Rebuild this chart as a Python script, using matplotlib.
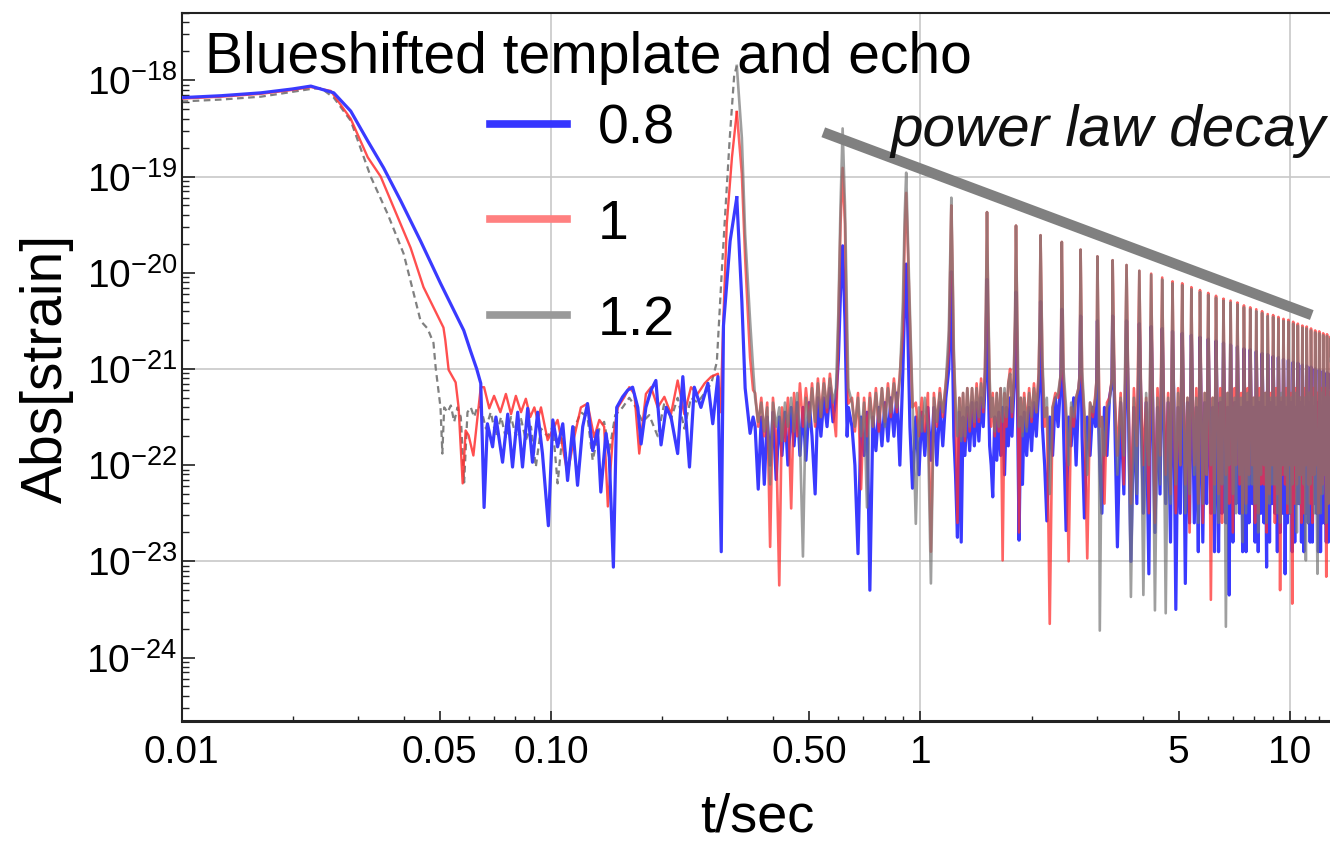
import numpy as np
import matplotlib
matplotlib.use("Agg")
import matplotlib.pyplot as plt
from matplotlib.lines import Line2D
from matplotlib.ticker import FixedLocator, FixedFormatter, LogLocator, NullFormatter

plt.rcParams['font.family'] = ['Liberation Sans', 'DejaVu Sans']
plt.rcParams['mathtext.fontset'] = 'custom'
plt.rcParams['mathtext.rm'] = 'Liberation Sans'

# ---- data: early part (ringdown + noise floor up to first echo peak), log10(t) and log10(|h|) ----
blue_early_lt = [-2.0, -1.893, -1.785, -1.700, -1.650, -1.588, -1.542, -1.496, -1.453, -1.407, -1.353, -1.299, -1.272, -1.236, -1.218, -1.201,
                 -1.190, -1.181, -1.172, -1.158, -1.149, -1.131, -1.117, -1.104, -1.090, -1.077, -1.063, -1.050, -1.036, -1.023, -1.007,
                 -0.995, -0.982, -0.968, -0.955, -0.941, -0.928, -0.914, -0.901, -0.887, -0.874, -0.865, -0.851, -0.842, -0.831, -0.822,
                 -0.806, -0.792, -0.779, -0.765, -0.756, -0.743, -0.729, -0.716, -0.702, -0.688, -0.675, -0.657, -0.643, -0.625, -0.612,
                 -0.594, -0.575, -0.562, -0.548, -0.539, -0.533, -0.515, -0.497]
blue_early_lh = [-18.18, -18.16, -18.13, -18.09, -18.06, -18.13, -18.32, -18.63, -18.91, -19.25, -19.67, -20.11, -20.32, -20.60, -20.81, -21.00,
                 -21.15, -22.44, -21.57, -21.81, -21.50, -21.97, -21.47, -22.02, -21.45, -22.02, -21.41, -21.97, -21.45, -21.88, -22.63,
                 -21.53, -21.81, -21.57, -22.16, -21.60, -22.21, -21.60, -21.36, -21.85, -21.64, -22.28, -21.67, -21.92, -23.06, -21.40,
                 -21.29, -21.22, -21.19, -21.40, -21.78, -21.40, -21.22, -21.12, -21.79, -21.40, -21.50, -21.88, -21.08, -22.02, -21.19,
                 -21.40, -21.15, -21.57, -21.08, -22.90, -20.55, -19.67, -19.22]

red_early_lt = [-2.0, -1.893, -1.785, -1.700, -1.650, -1.596, -1.542, -1.496, -1.461, -1.426, -1.380, -1.345, -1.291, -1.286, -1.277,
                -1.258, -1.250, -1.239, -1.231, -1.223, -1.210, -1.196,
                -1.190, -1.181, -1.167, -1.154, -1.137, -1.122, -1.108, -1.095, -1.081, -1.068, -1.056, -1.045, -1.036, -1.027, -1.009,
                -0.982, -0.955, -0.937, -0.919, -0.901, -0.883, -0.869, -0.856, -0.846, -0.833, -0.819, -0.801, -0.788, -0.774, -0.761,
                -0.743, -0.729, -0.711, -0.693, -0.675, -0.657, -0.639, -0.621, -0.603, -0.584, -0.566, -0.548, -0.541, -0.533, -0.524,
                -0.510, -0.497]
red_early_lh = [-18.19, -18.17, -18.14, -18.10, -18.07, -18.11, -18.40, -18.80, -19.00, -19.32, -19.74, -20.15, -20.57, -20.70, -21.01,
                -21.14, -21.40, -22.19, -21.64, -21.69, -21.90, -21.40,
                -21.19, -21.19, -21.41, -21.28, -21.45, -21.26, -21.47, -21.28, -21.45, -21.31, -21.50, -21.40, -21.53, -21.40, -21.74,
                -21.53, -22.09, -21.71, -21.40, -21.36, -21.71, -21.53, -21.60, -22.43, -21.74, -21.40, -21.29, -21.19, -21.26, -21.88,
                -21.26, -21.19, -21.40, -21.29, -21.47, -21.12, -21.47, -21.19, -21.26, -21.15, -21.08, -21.05, -21.45, -20.45, -19.49,
                -18.80, -18.33]

gray_early_lt = [-2.0, -1.893, -1.785, -1.700, -1.650, -1.623, -1.588, -1.542, -1.488, -1.442, -1.399, -1.366, -1.353, -1.334, -1.318,
                 -1.312, -1.299,
                 -1.294, -1.289, -1.280, -1.271, -1.262, -1.253, -1.244, -1.235, -1.226, -1.217, -1.208, -1.199, -1.190, -1.176, -1.163,
                 -1.149, -1.135, -1.122, -1.108, -1.095, -1.081, -1.068, -1.054, -1.041, -1.027, -1.009, -0.995, -0.982, -0.968, -0.955,
                 -0.937, -0.919, -0.901, -0.887, -0.869, -0.856, -0.842, -0.826, -0.806, -0.788, -0.770, -0.752, -0.734, -0.711, -0.693,
                 -0.675, -0.657, -0.639, -0.621, -0.603, -0.584, -0.566, -0.551, -0.537, -0.527, -0.516, -0.504, -0.497]
gray_early_lh = [-18.22, -18.20, -18.17, -18.12, -18.09, -18.08, -18.18, -18.42, -19.00, -19.39, -19.80, -20.30, -20.50, -20.58, -20.73,
                 -20.99, -21.40,
                 -21.88, -21.40, -21.45, -21.38, -21.55, -21.40, -21.50, -22.18, -21.45, -21.40, -21.50, -21.39, -21.40, -21.62, -21.45,
                 -21.70, -21.50, -21.72, -21.50, -21.70, -21.52, -21.74, -21.60, -22.02, -21.62, -21.70, -21.60, -22.19, -21.65, -22.05,
                 -21.62, -21.45, -21.50, -21.95, -21.62, -21.55, -21.85, -21.48, -21.40, -21.30, -21.40, -21.55, -21.48, -21.70, -21.35,
                 -21.52, -21.30, -21.62, -21.30, -21.35, -21.25, -21.15, -20.93, -19.95, -19.30, -18.60, -17.95, -17.85]

# ---- data: echo train, t in seconds, log10(|h|) ----
echo_t = [0.3185, 0.3287, 0.3355, 0.346, 0.3526,
          0.357, 0.364, 0.371, 0.378, 0.385, 0.392, 0.399, 0.407, 0.415, 0.422, 0.430, 0.438, 0.447, 0.455,
          0.464, 0.472, 0.481, 0.490, 0.500, 0.509, 0.519, 0.528, 0.538, 0.548, 0.559, 0.569, 0.580, 0.591, 0.600, 0.608,
          0.616, 0.625, 0.6335, 0.6385,
          0.653, 0.665, 0.678, 0.691, 0.704, 0.717, 0.730, 0.744, 0.758, 0.772, 0.787, 0.802, 0.817, 0.832, 0.848, 0.864,
          0.880, 0.897, 0.907,
          0.9155, 0.926, 0.937, 0.952,
          0.972, 0.991, 1.009, 1.028, 1.048, 1.068, 1.088, 1.108, 1.129, 1.150, 1.172, 1.194, 1.204,
          1.213, 1.222, 1.232, 1.245, 1.26, 1.275, 1.29, 1.305, 1.32, 1.34, 1.36, 1.38, 1.40, 1.42, 1.44, 1.46, 1.48, 1.495, 1.505,
          1.515, 1.525, 1.54, 1.555, 1.57, 1.59, 1.61, 1.63, 1.65, 1.67, 1.69, 1.71, 1.73, 1.75, 1.77, 1.79, 1.805,
          1.815, 1.83, 1.85, 1.87, 1.89, 1.91, 1.94, 1.97, 2.00, 2.03, 2.06, 2.09, 2.105,
          2.115, 2.14, 2.17, 2.20, 2.24, 2.28, 2.32, 2.36, 2.40,
          2.415, 2.44, 2.48, 2.52, 2.56, 2.60, 2.64, 2.68, 2.70,
          2.715, 2.74, 2.78, 2.83, 2.88, 2.93, 2.98, 3.00,
          3.015, 3.04, 3.06, 3.10, 3.15, 3.20, 3.25, 3.30,
          3.315, 3.355, 3.415, 3.485, 3.555,
          3.615, 3.655, 3.715, 3.785, 3.855,
          3.915, 3.955, 4.015, 4.085, 4.155,
          4.215, 4.255, 4.315, 4.385, 4.455,
          4.515, 4.555, 4.615, 4.685, 4.755,
          4.815, 4.855, 4.915, 4.985, 5.055,
          5.115, 5.155, 5.215, 5.285, 5.355,
          5.415, 5.455, 5.515, 5.585, 5.655,
          5.715, 5.755, 5.815, 5.885, 5.955,
          6.015, 6.055, 6.115, 6.185, 6.255,
          6.315, 6.355, 6.415, 6.485, 6.555,
          6.615, 6.655, 6.715, 6.785, 6.855,
          6.915, 6.955, 7.015, 7.085, 7.155,
          7.215, 7.255, 7.315, 7.385, 7.455,
          7.515, 7.555, 7.615, 7.685, 7.755,
          7.815, 7.855, 7.915, 7.985, 8.055,
          8.115, 8.155, 8.215, 8.285, 8.355,
          8.415, 8.455, 8.515, 8.585, 8.655,
          8.715, 8.755, 8.815, 8.885, 8.955,
          9.015, 9.055, 9.115, 9.185, 9.255,
          9.315, 9.355, 9.415, 9.485, 9.555,
          9.615, 9.655, 9.715, 9.785, 9.855,
          9.915, 9.955, 10.015, 10.085, 10.155,
          10.215, 10.255, 10.315, 10.385, 10.455,
          10.515, 10.555, 10.615, 10.685, 10.755,
          10.815, 10.855, 10.915, 10.985, 11.055,
          11.115, 11.155, 11.215, 11.285, 11.355,
          11.415, 11.455, 11.515, 11.585, 11.655,
          11.715, 11.755, 11.815, 11.885, 11.955,
          12.015, 12.055, 12.115, 12.185, 12.255,
          12.315, 12.355, 12.415, 12.485, 12.555,
          12.615, 12.655, 12.715, 12.785, 12.855,
          12.915, 12.955, 13.015, 13.085, 13.155]

blue_echo = [-19.22, -20.3, -21.2, -21.67, -21.5,
             -21.6, -22.25, -21.5, -22.2, -21.5, -22.0, -21.45, -22.15, -21.5, -21.9, -21.45, -22.0, -21.4, -21.8,
             -21.35, -21.9, -21.4, -21.95, -21.35, -21.7, -22.3, -21.3, -21.7, -21.3, -21.6, -21.2, -21.55, -21.3, -20.9, -20.2,
             -19.72, -20.5, -21.7, -21.4,
             -21.6, -22.0, -22.92, -21.5, -21.9, -21.45, -23.3, -21.5, -21.85, -21.4, -21.8, -21.35, -21.75, -21.3, -21.7, -21.25,
             -22.0, -21.0, -20.3,
             -19.91, -20.7, -21.6, -22.24,
             -21.5, -22.1, -21.45, -21.9, -21.4, -21.95, -21.4, -22.0, -21.35, -21.8, -21.3, -21.0, -20.5,
             -19.99, -20.8, -21.7, -22.1, -22.75, -21.45, -22.8, -21.5, -21.9, -21.4, -21.85, -21.35, -21.8, -21.35, -21.75, -21.3, -21.6, -21.2, -20.9,
             -20.07, -21.0, -21.8, -22.0, -22.33, -21.5, -21.95, -21.45, -21.9, -21.4, -22.1, -21.4, -21.8, -21.3, -21.7, -21.25, -21.0,
             -20.2, -21.2, -22.78, -21.5, -22.2, -21.45, -21.9, -21.4, -21.85, -21.35, -21.7, -21.25, -21.0,
             -20.3, -21.6, -22.0, -22.58, -21.5, -21.9, -21.3, -21.6, -21.1,
             -20.38, -21.6, -22.68, -21.5, -21.8, -21.3, -22.0, -21.3, -21.1,
             -20.45, -21.7, -22.55, -21.5, -21.9, -21.4, -21.6, -21.15,
             -20.5, -21.6, -22.0, -22.5, -21.4, -21.9, -21.3, -21.15,
             -20.45, -21.4, -22.85, -21.35, -22.3,
             -20.50, -21.35, -23.0, -21.4, -22.4,
             -20.53, -21.4, -22.5, -21.35, -23.13,
             -20.56, -21.35, -22.7, -21.4, -22.3,
             -20.58, -21.4, -22.4, -21.35, -22.8,
             -20.61, -21.35, -23.5, -21.4, -22.5,
             -20.63, -21.4, -23.23, -21.35, -22.6,
             -20.65, -21.35, -22.6, -21.4, -22.9,
             -20.67, -21.4, -22.8, -21.35, -22.4,
             -20.69, -21.35, -22.5, -21.4, -22.9,
             -20.71, -21.4, -22.9, -21.35, -22.5,
             -20.73, -21.35, -22.6, -21.4, -23.35,
             -20.75, -21.4, -22.8, -21.35, -22.4,
             -20.77, -21.35, -22.5, -21.4, -22.9,
             -20.79, -21.4, -22.9, -21.35, -22.6,
             -20.80, -21.35, -22.4, -21.4, -22.8,
             -20.82, -21.4, -22.9, -21.35, -22.5,
             -20.84, -21.35, -22.6, -21.4, -23.06,
             -20.85, -21.4, -22.8, -21.35, -22.4,
             -20.87, -21.35, -22.5, -21.4, -22.9,
             -20.88, -21.4, -22.7, -21.35, -22.5,
             -20.90, -21.35, -23.13, -21.4, -22.6,
             -20.91, -21.4, -22.5, -21.35, -22.9,
             -20.93, -21.35, -22.8, -21.4, -22.4,
             -20.94, -21.4, -22.4, -21.35, -22.8,
             -20.96, -21.35, -22.9, -21.4, -22.5,
             -20.97, -21.4, -22.6, -21.35, -22.8,
             -20.98, -21.35, -22.8, -21.4, -22.4,
             -21.00, -21.4, -22.5, -21.35, -22.9,
             -21.01, -21.35, -22.9, -21.4, -22.6,
             -21.02, -21.4, -22.6, -21.35, -22.8,
             -21.04, -21.35, -22.8, -21.4, -22.5,
             -21.05, -21.4, -22.5, -21.35, -22.7]

red_echo = [-18.33, -18.97, -19.84, -20.88, -21.22,
            -21.25, -21.6, -21.3, -21.7, -21.35, -22.85, -21.3, -21.7, -23.25, -21.4, -21.75, -21.3, -22.45, -21.25,
            -21.7, -21.15, -21.6, -21.2, -21.55, -21.15, -21.6, -21.1, -21.5, -21.1, -21.45, -21.05, -21.4, -21.7, -20.53, -19.49,
            -18.91, -19.49, -20.88, -21.36,
            -21.3, -21.65, -21.25, -22.25, -21.3, -21.7, -21.25, -21.6, -21.2, -21.65, -21.2, -21.55, -21.15, -21.5, -21.1, -21.45,
            -21.05, -20.6, -19.6,
            -19.17, -19.8, -20.53, -21.4,
            -21.35, -21.7, -21.3, -21.65, -21.25, -22.9, -21.25, -21.6, -21.2, -21.5, -21.15, -20.8, -20.0,
            -19.30, -20.0, -20.9, -21.4, -22.6, -21.3, -21.7, -21.25, -21.75, -21.2, -21.65, -21.2, -21.6, -21.15, -21.55, -21.1, -21.45, -21.05, -20.4,
            -19.37, -20.3, -21.2, -21.6, -21.25, -21.7, -21.25, -21.65, -21.2, -22.99, -21.25, -21.6, -21.15, -21.0, -21.5, -21.1, -20.5,
            -19.51, -20.6, -22.7, -21.3, -21.65, -21.25, -21.6, -21.2, -21.55, -21.15, -21.45, -21.05, -20.5,
            -19.61, -21.0, -21.6, -21.4, -23.65, -21.4, -21.25, -21.3, -21.05,
            -19.68, -21.1, -21.5, -23.0, -21.4, -21.6, -21.3, -21.2, -21.05,
            -19.76, -21.1, -21.5, -22.97, -21.35, -21.5, -21.25, -21.1,
            -19.83, -21.0, -21.6, -21.5, -22.4, -21.35, -21.3, -21.1,
            -19.87, -21.2, -21.9, -21.25, -22.2,
            -19.92, -21.25, -22.4, -21.2, -21.8,
            -19.98, -21.2, -22.0, -21.3, -22.5,
            -20.01, -21.25, -22.6, -21.2, -21.9,
            -20.05, -21.2, -22.1, -21.25, -22.3,
            -20.09, -21.3, -22.5, -21.2, -22.0,
            -20.11, -21.2, -22.2, -21.3, -22.7,
            -20.15, -21.25, -22.0, -21.2, -22.4,
            -20.18, -21.2, -22.6, -21.25, -22.1,
            -20.21, -21.2, -23.4, -21.3, -22.2,
            -20.24, -21.25, -22.3, -21.2, -22.6,
            -20.27, -21.2, -22.1, -21.25, -22.4,
            -20.29, -21.3, -22.7, -21.2, -22.0,
            -20.31, -21.2, -22.2, -21.25, -22.5,
            -20.34, -21.25, -22.4, -21.2, -22.1,
            -20.36, -21.2, -22.0, -21.3, -22.6,
            -20.38, -21.25, -22.5, -21.2, -22.2,
            -20.40, -21.2, -22.2, -21.25, -22.7,
            -20.43, -21.2, -22.3, -21.25, -22.0,
            -20.44, -21.25, -22.6, -21.2, -22.3,
            -20.46, -21.2, -23.3, -21.3, -22.1,
            -20.48, -21.25, -22.2, -21.2, -22.5,
            -20.49, -21.2, -22.0, -21.25, -23.44,
            -20.51, -21.25, -22.4, -21.2, -22.2,
            -20.53, -21.2, -22.1, -21.3, -22.6,
            -20.55, -21.25, -22.5, -21.2, -22.0,
            -20.56, -21.2, -22.2, -21.25, -22.4,
            -20.58, -21.25, -22.6, -21.2, -22.1,
            -20.60, -21.2, -22.0, -21.25, -22.5,
            -20.61, -21.2, -22.3, -21.2, -22.2,
            -20.63, -21.25, -22.1, -21.2, -23.16,
            -20.64, -21.2, -22.4, -21.25, -22.0,
            -20.66, -21.2, -22.2, -21.25, -22.3]

gray_echo = [-17.85, -18.6, -19.6, -20.5, -21.0,
             -21.3, -21.55, -21.35, -21.65, -21.4, -22.2, -21.35, -21.6, -21.4, -21.75, -21.35, -21.6, -21.3, -21.65,
             -21.25, -21.7, -22.95, -21.3, -21.6, -21.2, -21.55, -21.15, -21.5, -21.15, -21.4, -21.1, -21.35, -21.2, -20.4, -19.3,
             -18.50, -19.3, -20.5, -21.2,
             -21.35, -21.6, -21.3, -21.7, -21.35, -22.44, -21.3, -21.6, -21.25, -21.55, -21.2, -21.6, -21.2, -21.45, -21.15, -21.4,
             -21.1, -20.3, -19.4,
             -18.96, -19.7, -20.4, -21.3,
             -22.61, -21.4, -21.65, -21.3, -21.6, -23.23, -21.3, -21.55, -21.25, -21.45, -21.15, -20.6, -19.9,
             -19.22, -19.9, -20.8, -21.35, -21.7, -21.3, -21.75, -21.25, -21.7, -21.2, -21.6, -21.2, -21.55, -21.2, -21.5, -21.15, -21.4, -21.1, -20.3,
             -19.37, -20.2, -21.1, -21.5, -21.3, -21.65, -21.25, -21.6, -21.2, -21.55, -21.2, -21.5, -21.15, -21.05, -21.45, -21.1, -20.4,
             -19.51, -20.5, -21.6, -21.3, -21.7, -21.3, -21.65, -21.25, -21.5, -21.2, -21.45, -21.1, -20.4,
             -19.61, -20.9, -21.5, -21.3, -22.3, -21.4, -21.3, -21.25, -21.05,
             -19.68, -21.0, -21.4, -22.0, -21.35, -21.5, -21.3, -21.2, -21.05,
             -19.76, -21.0, -21.45, -22.1, -21.35, -21.45, -21.3, -21.1,
             -19.83, -21.0, -23.72, -21.5, -21.9, -21.4, -21.35, -21.1,
             -19.87, -21.3, -22.1, -21.3, -21.9,
             -19.92, -21.25, -23.37, -21.3, -22.3,
             -19.98, -21.3, -23.35, -21.25, -22.0,
             -20.02, -21.3, -23.51, -21.3, -22.2,
             -20.07, -21.25, -23.54, -21.3, -22.4,
             -20.11, -21.3, -22.2, -21.25, -22.0,
             -20.13, -21.3, -22.5, -21.3, -22.3,
             -20.17, -21.25, -22.1, -21.3, -22.6,
             -20.20, -21.3, -22.4, -21.25, -22.1,
             -20.23, -21.3, -22.0, -21.3, -22.5,
             -20.26, -21.25, -22.6, -21.3, -22.2,
             -20.29, -21.3, -23.68, -21.25, -22.0,
             -20.31, -21.3, -22.3, -21.3, -22.5,
             -20.33, -21.25, -22.1, -21.3, -22.8,
             -20.36, -21.3, -22.5, -21.25, -22.2,
             -20.38, -21.3, -22.2, -21.3, -22.4,
             -20.40, -21.25, -22.7, -21.3, -22.1,
             -20.42, -21.3, -22.0, -21.25, -22.6,
             -20.45, -21.3, -22.4, -21.3, -22.2,
             -20.46, -21.25, -22.2, -21.3, -22.5,
             -20.48, -21.3, -22.6, -21.25, -22.0,
             -20.50, -21.3, -22.1, -21.3, -22.4,
             -20.51, -21.25, -22.5, -21.3, -22.2,
             -20.53, -21.3, -22.0, -21.25, -22.7,
             -20.55, -21.3, -22.4, -21.3, -22.1,
             -20.57, -21.25, -22.2, -21.3, -22.99,
             -20.58, -21.3, -22.6, -21.25, -22.2,
             -20.60, -21.3, -22.1, -21.3, -22.5,
             -20.62, -21.25, -22.3, -23.13, -22.0,
             -20.63, -21.3, -22.5, -21.25, -22.3,
             -20.65, -21.3, -22.1, -21.3, -22.6,
             -20.66, -21.25, -22.4, -21.3, -22.1,
             -20.68, -21.3, -22.2, -21.25, -22.4]

# power-law guide line (end points), log10(|h|)
decay_t = [0.546, 11.47]
decay_lh = [-18.54, -20.44]

legend_labels = ['0.8', '1', '1.2']
xtick_vals = [0.01, 0.05, 0.1, 0.5, 1, 5, 10]
xtick_text = ['0.01', '0.05', '0.10', '0.50', '1', '5', '10']
xminor_vals = [0.02, 0.03, 0.04, 0.06, 0.07, 0.08, 0.09, 0.2, 0.3, 0.4, 0.6, 0.7, 0.8, 0.9,
               2, 3, 4, 6, 7, 8, 9, 11, 12]
ytick_vals = [1e-24, 1e-23, 1e-22, 1e-21, 1e-20, 1e-19, 1e-18]
grid_t = [0.1, 1, 10]
grid_h = [1e-19, 1e-21, 1e-23]

blue_c = '#3a3aff'
red_c = '#ff3030'
gray_c = '#777777'

fig = plt.figure(figsize=(13.3, 8.43), dpi=100)
ax = fig.add_axes([0.1365, 0.1447, 0.8635, 0.8399])
ax.set_xscale('log')
ax.set_yscale('log')

for g in grid_t:
    ax.axvline(g, color='#c8c8c8', lw=1.2, zorder=1)
for g in grid_h:
    ax.axhline(g, color='#c8c8c8', lw=1.2, zorder=1)

# early part: dashed gray under, blue on top
ax.plot(10 ** np.array(gray_early_lt), 10 ** np.array(gray_early_lh), color='#808080',
        lw=1.6, ls=(0, (3, 2)), zorder=2)
ax.plot(10 ** np.array(red_early_lt), 10 ** np.array(red_early_lh), color=red_c,
        lw=1.7, alpha=0.85, zorder=3)
ax.plot(10 ** np.array(blue_early_lt), 10 ** np.array(blue_early_lh), color=blue_c,
        lw=2.3, zorder=4)

# echo train: blue under, red and gray translucent on top
et = np.array(echo_t)
ax.plot(et, 10 ** np.array(blue_echo), color=blue_c, lw=2.3, zorder=2)
ax.plot(et, 10 ** np.array(red_echo), color=red_c, lw=1.9, alpha=0.75, zorder=3)
ax.plot(et, 10 ** np.array(gray_echo), color=gray_c, lw=1.9, alpha=0.7, zorder=4)

ax.plot(decay_t, 10 ** np.array(decay_lh), color='#808080', lw=7.5,
        solid_capstyle='butt', zorder=6)

ax.set_xlim(0.01, 12.85)
ax.set_ylim(10 ** -24.66, 10 ** -17.30)

ax.xaxis.set_major_locator(FixedLocator(xtick_vals))
ax.xaxis.set_major_formatter(FixedFormatter(xtick_text))
ax.xaxis.set_minor_locator(FixedLocator(xminor_vals))
ax.xaxis.set_minor_formatter(NullFormatter())
ax.yaxis.set_major_locator(FixedLocator(ytick_vals))
ax.yaxis.set_minor_locator(LogLocator(base=10, subs=np.arange(2, 10), numticks=20))
ax.yaxis.set_minor_formatter(NullFormatter())

ax.tick_params(axis='x', which='major', direction='in', length=7, width=1.2, labelsize=28, pad=10, color='#222222')
ax.tick_params(axis='x', which='minor', direction='in', length=3.5, width=1.0, color='#222222')
ax.tick_params(axis='y', which='major', direction='in', length=9, width=1.2, labelsize=28, pad=3, color='#222222')
ax.tick_params(axis='y', which='minor', direction='in', length=5, width=1.0, color='#222222')

ax.spines['right'].set_visible(False)
ax.spines['left'].set_linewidth(1.5)
ax.spines['bottom'].set_linewidth(2.2)
ax.spines['top'].set_linewidth(1.5)
for s in ['left', 'bottom', 'top']:
    ax.spines[s].set_color('#222222')

handles = [Line2D([], [], color='#3535ff', lw=5.5),
           Line2D([], [], color='#ff8080', lw=5.5),
           Line2D([], [], color='#999999', lw=5.5)]
ax.legend(handles, legend_labels, loc='upper left', bbox_to_anchor=(490 / 1330, 1 - 103 / 843),
          bbox_transform=fig.transFigure, frameon=False, fontsize=40, handlelength=1.385,
          handletextpad=0.56, labelspacing=0.79, borderpad=0, borderaxespad=0)

fig.text(205 / 1330, 1 - 73 / 843, 'Blueshifted template and echo', fontsize=41,
         ha='left', va='baseline')
fig.text(890 / 1330, 1 - 146 / 843, 'power law decay', fontsize=42, style='italic',
         ha='left', va='baseline', color='#111111')
fig.text(47 / 1330, 1 - 368 / 843, 'Abs[strain]', fontsize=41, rotation=90,
         ha='center', va='center')
fig.text(757 / 1330, 1 - 817 / 843, 't/sec', fontsize=39, ha='center', va='center')

fig.savefig('out.png', dpi=100)
